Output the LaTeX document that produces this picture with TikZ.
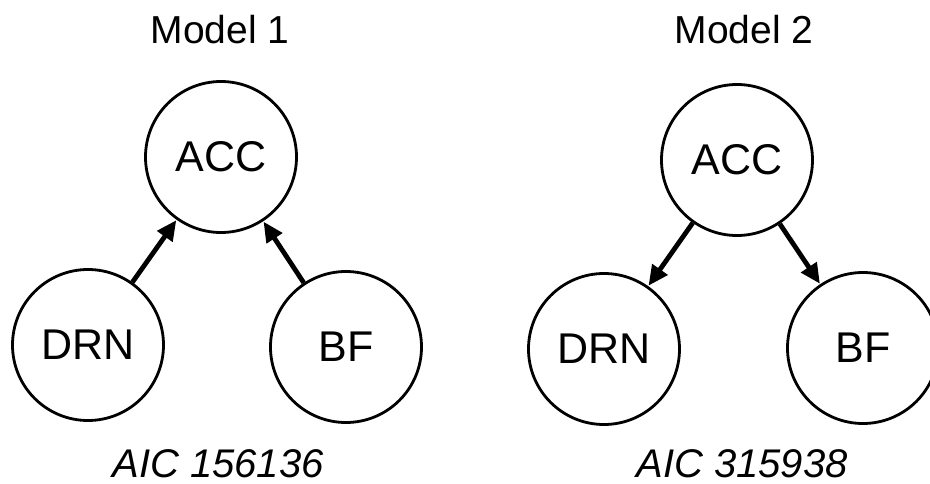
\documentclass[tikz,border=0pt]{standalone}
\usepackage{fontspec}
\setmainfont{Liberation Sans}
\usetikzlibrary{arrows.meta}
\begin{document}
\begin{tikzpicture}[x=1pt,y=-1pt,
  state/.style={circle,draw,line width=2.8pt,minimum size=151pt,inner sep=0pt,font=\fontsize{43}{48}\selectfont},
  title/.style={anchor=base,inner sep=0pt,font=\fontsize{39}{44}\selectfont},
  aic/.style={anchor=base,inner sep=0pt,font=\fontsize{40}{46}\selectfont\itshape},
  edge/.style={line width=4.8pt,-{Triangle[length=20pt,width=18pt]},shorten >=0.5pt}]
\useasboundingbox (0,0) rectangle (930,483);
% Model 1
\node[title] (t1) at (220,43) {Model 1};
\node[state] (acc1) at (221,157) {ACC};
\node[state] (drn1) at (88,345) {DRN};
\node[state] (bf1) at (346,347) {BF};
\node[aic] (aic1) at (218,477) {AIC 156136};
\draw[edge] (drn1) -- (acc1);
\draw[edge] (bf1) -- (acc1);
% Model 2
\node[title] (t2) at (744,43) {Model 2};
\node[state] (acc2) at (737,160) {ACC};
\node[state] (drn2) at (604,349) {DRN};
\node[state] (bf2) at (863,348) {BF};
\node[aic] (aic2) at (742,477) {AIC 315938};
\draw[edge] (acc2) -- (drn2);
\draw[edge] (acc2) -- (bf2);
\end{tikzpicture}
\end{document}
